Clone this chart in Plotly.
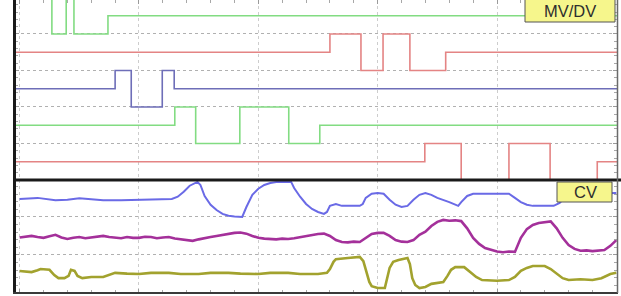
import plotly.graph_objects as go

# ---------------- data ----------------
# MV/DV step signals (time, level); drawn as horizontal-then-vertical steps
g1_t = [-1, 5.4, 7.8, 9.1, 14.8, 101]
g1_v = [5.3, 4.0, 5.3, 4.0, 4.5, 4.5]
r1_t = [-1, 52.0, 57.2, 60.9, 65.4, 71.4, 101]
r1_v = [3.5, 4.0, 3.0, 4.0, 3.0, 3.5, 3.5]
b1_t = [-1, 16.0, 18.7, 23.9, 25.9, 101]
b1_v = [2.5, 3.0, 2.0, 3.0, 2.5, 2.5]
g2_t = [-1, 26.0, 29.5, 36.9, 45.1, 50.3, 101]
g2_v = [1.5, 2.0, 1.0, 2.0, 1.0, 1.5, 1.5]
r2_t = [-1, 67.9, 74.0, 82.0, 88.9, 96.8, 101]
r2_v = [0.5, 1.0, -0.4, 1.0, -0.4, 0.5, 0.5]

# CV signals
cvb_t = [0, 3, 6, 8, 10, 12, 14, 17, 20, 23, 25.5, 26.5, 27.5, 28.5, 29.3, 29.8, 30.3, 31, 32, 33,
         34, 35, 36, 37.3, 38, 39, 40, 41, 42, 43, 45.5, 46, 47, 48, 49, 50, 51, 51.5, 52, 53,
         54, 57, 57.5, 58, 59, 60, 61, 62, 63, 64, 65, 66, 67, 68, 69, 70, 72, 73.5, 74, 75,
         76, 82, 83, 84, 85, 86, 89.5, 90.5, 91.5, 93, 100]
cvb_v = [2.47, 2.50, 2.44, 2.45, 2.49, 2.47, 2.44, 2.44, 2.45, 2.45, 2.47, 2.53, 2.66, 2.82, 2.89, 2.92, 2.84, 2.55, 2.32, 2.18,
         2.08, 2.03, 2.01, 2.00, 2.26, 2.58, 2.74, 2.84, 2.89, 2.92, 2.92, 2.76, 2.53, 2.34, 2.21, 2.13, 2.08, 2.13, 2.29, 2.34,
         2.29, 2.29, 2.34, 2.50, 2.61, 2.63, 2.61, 2.45, 2.32, 2.26, 2.29, 2.45, 2.58, 2.63, 2.58, 2.50, 2.39, 2.29, 2.39, 2.55,
         2.61, 2.61, 2.50, 2.39, 2.32, 2.29, 2.29, 2.37, 2.53, 2.61, 2.63]

cvm_t = [0, 1, 2, 3, 4, 5, 6, 7, 8, 9, 10, 11, 12, 13, 14, 15, 16, 17, 18, 19,
         20, 21, 22, 23, 24, 25, 26, 27, 28, 29, 30, 31, 32, 33, 34, 35, 36, 37, 38, 39,
         40, 41, 42, 43, 44, 45, 46, 47, 48, 49, 50, 51, 52, 53, 54, 55, 56, 57, 58, 59,
         60, 61, 62, 63, 64, 65, 66, 67, 68, 69, 70, 71, 72, 73, 74, 75, 76, 77, 78, 79,
         80, 81, 82, 83, 84, 85, 86, 87, 88, 89, 90, 91, 92, 93, 94, 95, 96, 97, 98, 99, 100]
cvm_v = [1.46, 1.49, 1.50, 1.47, 1.45, 1.49, 1.53, 1.46, 1.42, 1.45, 1.47, 1.44, 1.46, 1.49, 1.50, 1.47, 1.45, 1.44, 1.47, 1.45,
         1.45, 1.48, 1.47, 1.44, 1.46, 1.47, 1.43, 1.41, 1.39, 1.37, 1.41, 1.45, 1.47, 1.50, 1.53, 1.56, 1.58, 1.59, 1.56, 1.50,
         1.45, 1.43, 1.42, 1.41, 1.43, 1.42, 1.44, 1.47, 1.50, 1.53, 1.55, 1.56, 1.50, 1.39, 1.34, 1.33, 1.35, 1.34, 1.45, 1.55,
         1.58, 1.58, 1.50, 1.39, 1.35, 1.34, 1.39, 1.53, 1.61, 1.76, 1.87, 1.92, 1.90, 1.91, 1.89, 1.70, 1.45, 1.29, 1.18, 1.13,
         1.09, 1.07, 1.09, 1.08, 1.45, 1.68, 1.79, 1.84, 1.86, 1.88, 1.70, 1.45, 1.26, 1.16, 1.11, 1.12, 1.10, 1.11, 1.13, 1.24, 1.39]

cvo_t = [0, 1, 2, 3, 3.5, 5, 5.8, 6.5, 7.5, 8.2, 8.6, 9.2, 9.7, 10.5, 12, 14, 15, 16, 18, 20,
         22, 25, 27, 30, 32, 35, 37, 40, 42, 45, 47, 50, 51.5, 52, 52.6, 53, 55, 57, 57.6, 58.1,
         58.6, 59, 60, 61.2, 61.7, 62, 62.6, 63.5, 65, 65.4, 65.8, 66.3, 67, 68, 69, 71, 71.7, 72.3, 73, 74.5,
         75.5, 76.5, 77.5, 80, 82, 83, 84, 85, 86, 88, 89, 90, 91, 92, 94, 96, 97.5, 99, 100]
cvo_v = [0.58, 0.56, 0.55, 0.60, 0.63, 0.61, 0.47, 0.39, 0.39, 0.45, 0.61, 0.58, 0.45, 0.39, 0.42, 0.42, 0.47, 0.53, 0.51, 0.50,
         0.53, 0.53, 0.50, 0.50, 0.53, 0.53, 0.51, 0.50, 0.53, 0.53, 0.50, 0.50, 0.53, 0.63, 0.82, 0.89, 0.92, 0.95, 0.84, 0.55,
         0.29, 0.18, 0.13, 0.13, 0.42, 0.66, 0.82, 0.87, 0.92, 0.76, 0.39, 0.21, 0.13, 0.16, 0.24, 0.29, 0.45, 0.61, 0.68, 0.68,
         0.55, 0.42, 0.34, 0.32, 0.34, 0.42, 0.58, 0.66, 0.71, 0.71, 0.63, 0.50, 0.39, 0.34, 0.36, 0.34, 0.39, 0.50, 0.53]

# ---------------- figure ----------------
W, H = 621, 296
fig = go.Figure()

step = dict(mode="lines", line_shape="hv", hoverinfo="skip", showlegend=False)
fig.add_trace(go.Scatter(x=g1_t, y=g1_v, line=dict(color="#82DC82", width=1.6), xaxis="x", yaxis="y", **step))
fig.add_trace(go.Scatter(x=r1_t, y=r1_v, line=dict(color="#E48484", width=1.6), xaxis="x", yaxis="y", **step))
fig.add_trace(go.Scatter(x=b1_t, y=b1_v, line=dict(color="#6E6EB8", width=1.6), xaxis="x", yaxis="y", **step))
fig.add_trace(go.Scatter(x=g2_t, y=g2_v, line=dict(color="#82DC82", width=1.6), xaxis="x", yaxis="y", **step))
fig.add_trace(go.Scatter(x=r2_t, y=r2_v, line=dict(color="#E48484", width=1.6), xaxis="x", yaxis="y", **step))

cv = dict(mode="lines", hoverinfo="skip", showlegend=False, xaxis="x2", yaxis="y2")
fig.add_trace(go.Scatter(x=cvb_t, y=cvb_v, line=dict(color="#6A6AE6", width=2), **cv))
fig.add_trace(go.Scatter(x=cvm_t, y=cvm_v, line=dict(color="#A4309A", width=2.6), **cv))
fig.add_trace(go.Scatter(x=cvo_t, y=cvo_v, line=dict(color="#A2A22E", width=2.6), **cv))

x_dom = [15 / W, 617 / W]
x_rng = [-0.78, 100.11]
xcommon = dict(range=x_rng, domain=x_dom, showgrid=True, gridcolor="#cdcdcd", griddash="dot",
               gridwidth=1, zeroline=False, showticklabels=False, ticks="inside", ticklen=4,
               tickcolor="#9a9a9a", tick0=0, dtick=20,
               minor=dict(ticks="inside", ticklen=3, tickcolor="#a8a8a8", dtick=4, showgrid=False))
ycommon = dict(showgrid=True, gridcolor="#b0b0b0", griddash="dot", gridwidth=1, zeroline=False,
               showticklabels=False, ticks="inside", ticklen=4, tickcolor="#9a9a9a", tick0=0, dtick=1,
               minor=dict(ticks="inside", ticklen=3, tickcolor="#a8a8a8", dtick=0.2, showgrid=False),
               showline=True, linecolor="#c8c8c8", linewidth=1, mirror="ticks")

fig.update_layout(
    width=W, height=H, autosize=False,
    margin=dict(l=0, r=0, t=0, b=0),
    paper_bgcolor="white", plot_bgcolor="white",
    xaxis=dict(anchor="y", side="top", **xcommon),
    yaxis=dict(domain=[116 / H, 1.0], range=[0, 4.93], anchor="x", **ycommon),
    xaxis2=dict(anchor="y2", side="bottom", matches="x", **xcommon),
    yaxis2=dict(domain=[3 / H, 116 / H], range=[0, 2.97], anchor="x2", **ycommon),
    font=dict(family="Liberation Sans, Arial, sans-serif"),
)

def px(x):
    return x / W

def py(y):
    return 1 - y / H

shapes = [
    # left heavy axis
    dict(type="line", xref="paper", yref="paper", x0=px(14.5), x1=px(14.5), y0=py(-2), y1=py(294),
         line=dict(color="#1a1a1a", width=3)),
    # separator between panels
    dict(type="line", xref="paper", yref="paper", x0=px(13), x1=px(621), y0=py(180), y1=py(180),
         line=dict(color="#1a1a1a", width=3)),
    # bottom border
    dict(type="line", xref="paper", yref="paper", x0=px(13), x1=px(618), y0=py(293), y1=py(293),
         line=dict(color="#3a3a3a", width=2)),
    # right border
    dict(type="line", xref="paper", yref="paper", x0=px(617.5), x1=px(617.5), y0=py(-2), y1=py(293),
         line=dict(color="#6a6a6a", width=1.5)),
    # label boxes
    dict(type="rect", xref="paper", yref="paper", x0=px(525), x1=px(615), y0=py(22), y1=py(-3),
         fillcolor="#F6F68C", line=dict(color="#555555", width=1)),
    dict(type="rect", xref="paper", yref="paper", x0=px(557), x1=px(612), y0=py(202), y1=py(182),
         fillcolor="#F6F68C", line=dict(color="#555555", width=1)),
]
fig.update_layout(shapes=shapes)

fig.add_annotation(xref="paper", yref="paper", x=px(570), y=py(10.5), text="MV/DV", showarrow=False,
                   font=dict(size=16.5, color="#2e2e2e", family="Liberation Sans, Arial, sans-serif"),
                   xanchor="center", yanchor="middle")
fig.add_annotation(xref="paper", yref="paper", x=px(585.5), y=py(192), text="CV", showarrow=False,
                   font=dict(size=16.5, color="#2e2e2e", family="Liberation Sans, Arial, sans-serif"),
                   xanchor="center", yanchor="middle")

fig.write_html("out.html")
